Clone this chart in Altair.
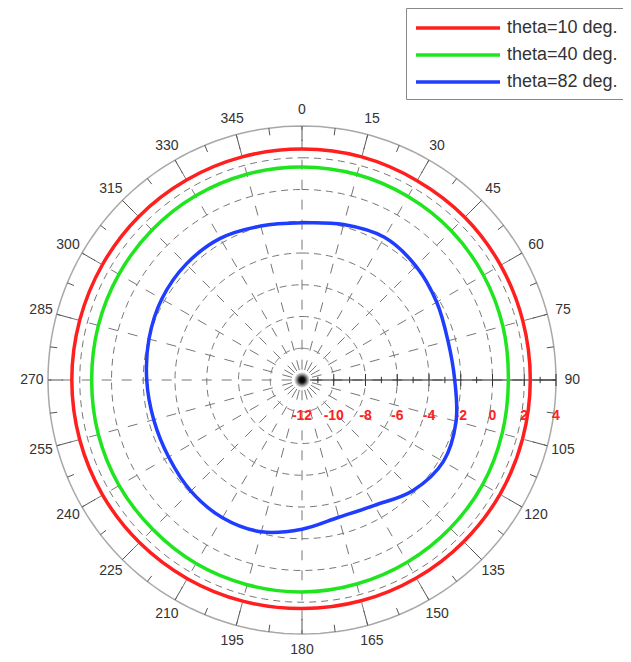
import altair as alt
import pandas as pd
import numpy as np

# ---- data ----
angles = list(range(0, 360, 15))
red_vals = [2.55, 2.55, 2.5, 2.5, 2.45, 2.4, 2.38, 2.38, 2.4, 2.4, 2.4, 2.4,
            2.4, 2.42, 2.45, 2.48, 2.5, 2.5, 2.5, 2.5, 2.52, 2.55, 2.55, 2.55]
green_vals = [1.42, 1.4, 1.35, 1.3, 1.2, 1.1, 1.0, 1.05, 1.15, 1.2, 1.25, 1.3,
              1.35, 1.35, 1.35, 1.3, 1.3, 1.28, 1.25, 1.28, 1.32, 1.36, 1.4, 1.42]
blue_vals = [-2.10, -1.86, -1.62, -1.85, -2.20, -2.48, -2.38, -1.95, -1.72, -2.14, -2.88, -3.05,
             -2.60, -2.10, -1.98, -2.10, -2.30, -2.33, -2.22, -2.02, -1.80, -1.68, -1.70, -1.96]
series_names = ["theta=10 deg.", "theta=40 deg.", "theta=82 deg."]
series_colors = ["#ff1f1f", "#1fe51f", "#1f3dff"]
angle_labels = [str(a) for a in angles]
radial_tick_values = list(range(-12, 5, 1))
radial_label_values = list(range(-12, 5, 2))
grid_values = [-10, -8, -6, -4, -2, 0, 2]
r_min, r_max = -12, 4

# ---- geometry of the view ----
W, H = 615, 652
PX = 15.875
CX, CY = 294, 372
xdom = [-CX / PX, (W - CX) / PX]
ydom = [-(H - CY) / PX, CY / PX]
xs = alt.Scale(domain=xdom, nice=False, zero=False)
ys = alt.Scale(domain=ydom, nice=False, zero=False)
RAD = "PI/180"
span = r_max - r_min

def X(u, a):
    return f"({u})*sin(({a})*{RAD})"

def Y(u, a):
    return f"({u})*cos(({a})*{RAD})"

# curves
curves = pd.DataFrame({
    "angle": angles * 3,
    "value": red_vals + green_vals + blue_vals,
    "series": [series_names[0]] * 24 + [series_names[1]] * 24 + [series_names[2]] * 24,
})

# grid circle table
circ_angles = list(range(0, 361, 2))
grid = pd.DataFrame([(g, a) for g in grid_values for a in circ_angles], columns=["value", "angle"])
outer = pd.DataFrame({"value": [r_max] * len(circ_angles), "angle": circ_angles})

spokes = pd.DataFrame({"angle": angles})
tick_angles = [a / 2 for a in range(0, 720, 15)]
oticks = pd.DataFrame({"angle": tick_angles, "major": [(a % 15 == 0) for a in tick_angles]})
alabels = pd.DataFrame({"angle": angles, "label": angle_labels})
rticks = pd.DataFrame({"value": radial_tick_values, "major": [(v % 2 == 0) for v in radial_tick_values]})
rlabels = pd.DataFrame({"value": radial_label_values, "label": [str(v) for v in radial_label_values]})
center = pd.DataFrame({"value": [r_min]})

enc_xy = dict(x=alt.X("x:Q", scale=xs, axis=None), y=alt.Y("y:Q", scale=ys, axis=None))

grid_layer = alt.Chart(grid).transform_calculate(
    u=f"datum.value - ({r_min})"
).transform_calculate(
    x=X("datum.u", "datum.angle"), y=Y("datum.u", "datum.angle")
).mark_line(color="#777", strokeWidth=1, strokeDash=[7, 5]).encode(
    detail="value:N", order="angle:Q", **enc_xy)

outer_layer = alt.Chart(outer).transform_calculate(
    u=f"datum.value - ({r_min})"
).transform_calculate(
    x=X("datum.u", "datum.angle"), y=Y("datum.u", "datum.angle")
).mark_line(color="#a8a8a8", strokeWidth=1.5).encode(order="angle:Q", **enc_xy)

spoke_layer = alt.Chart(spokes).transform_calculate(
    x=X(0.65, "datum.angle"), y=Y(0.65, "datum.angle"),
    x2=X(span, "datum.angle"), y2=Y(span, "datum.angle")
).mark_rule(color="#777", strokeWidth=1, strokeDash=[10, 10]).encode(
    x2="x2:Q", y2="y2:Q", **enc_xy)

otick_layer = alt.Chart(oticks).transform_calculate(
    u1=f"datum.major ? {span - 0.95} : {span - 0.45}"
).transform_calculate(
    x=X(span, "datum.angle"), y=Y(span, "datum.angle"),
    x2=X("datum.u1", "datum.angle"), y2=Y("datum.u1", "datum.angle")
).mark_rule(color="#555", strokeWidth=1).encode(x2="x2:Q", y2="y2:Q", **enc_xy)

alabel_layer = alt.Chart(alabels).transform_calculate(
    x=X(span + 1.02, "datum.angle"), y=Y(span + 1.02, "datum.angle")
).mark_text(font="Liberation Sans", fontSize=14, color="#333", align="center", baseline="middle").encode(
    text="label:N", **enc_xy)

axis_line = alt.Chart(center).transform_calculate(
    x="0", y="0", x2=f"{span}", y2="0"
).mark_rule(color="#222", strokeWidth=1.2).encode(x2="x2:Q", y2="y2:Q", **enc_xy)

rtick_layer = alt.Chart(rticks).transform_calculate(
    x=f"datum.value - ({r_min})", y="datum.major ? -0.38 : -0.2",
    x2=f"datum.value - ({r_min})", y2="datum.major ? 0.38 : 0.2"
).mark_rule(color="#333", strokeWidth=1).encode(x2="x2:Q", y2="y2:Q", **enc_xy)

rlabel_layer = alt.Chart(rlabels).transform_calculate(
    x=f"datum.value - ({r_min})", y="-2.25"
).mark_text(font="Liberation Sans", fontSize=14, fontWeight="bold", color="#ff2020",
            align="center", baseline="middle").encode(text="label:N", **enc_xy)

curve_layer = alt.Chart(curves).transform_calculate(
    u=f"datum.value - ({r_min})"
).transform_calculate(
    x=X("datum.u", "datum.angle"), y=Y("datum.u", "datum.angle")
).mark_line(interpolate="cardinal-closed", strokeWidth=3.5).encode(
    color=alt.Color("series:N",
                    scale=alt.Scale(domain=series_names, range=series_colors),
                    legend=alt.Legend(title=None, orient="none", legendX=398, legendY=0,
                                      symbolType="M-4.2,0H4.2", symbolSize=400, symbolStrokeWidth=3.5,
                                      symbolOffset=32, labelOffset=37,
                                      labelFontSize=18, labelFont="Liberation Sans", labelColor="#333",
                                      strokeColor="#888", fillColor="white", padding=8,
                                      rowPadding=6, labelLimit=300)),
    order="angle:Q", **enc_xy)

glow = alt.Chart(center).transform_calculate(x="0", y="0").mark_circle(
    size=260, opacity=1,
    color=alt.RadialGradient(gradient="radial", stops=[
        alt.GradientStop(offset=0, color="#000000"),
        alt.GradientStop(offset=0.35, color="#111111"),
        alt.GradientStop(offset=0.7, color="#999999"),
        alt.GradientStop(offset=1, color="#ffffff")])
).encode(**enc_xy)

chart = alt.layer(
    grid_layer, spoke_layer, outer_layer, otick_layer, alabel_layer,
    axis_line, rtick_layer, rlabel_layer, glow, curve_layer
).properties(width=W, height=H, padding=0, autosize="none").configure_view(stroke=None)

chart.save("out.html", embed_options={"renderer": "svg", "actions": False})
